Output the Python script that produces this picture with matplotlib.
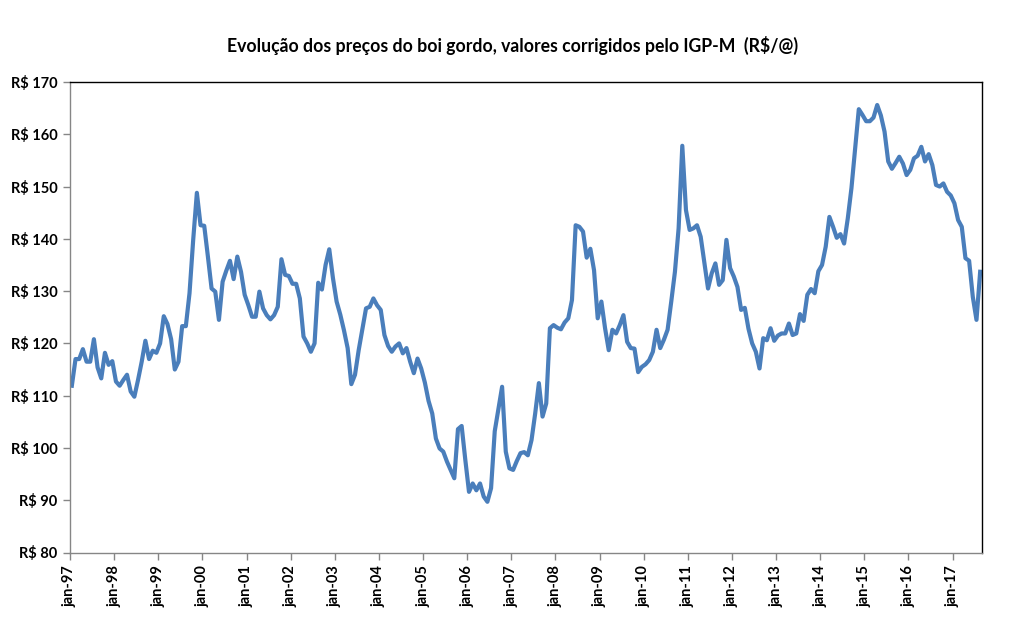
import numpy as np
import matplotlib
matplotlib.use("Agg")
import matplotlib.pyplot as plt

# Preco mensal do boi gordo (R$/@), corrigido pelo IGP-M, jan-97 a ago-17
precos = [
    111.9, 117.0, 117.0, 118.9, 116.5, 116.5, 120.8, 115.4, 113.3, 118.2, 115.9, 116.6,  # 1997
    112.7, 111.9, 113.0, 114.0, 110.8, 109.8, 113.0, 116.5, 120.5, 117.0, 118.6, 118.2,  # 1998
    120.0, 125.2, 123.7, 120.8, 115.0, 116.5, 123.3, 123.3, 129.6, 139.8, 148.8, 142.6,  # 1999
    142.5, 136.6, 130.5, 129.9, 124.5, 131.8, 133.9, 135.8, 132.3, 136.6, 133.7, 129.3,  # 2000
    127.3, 125.1, 125.1, 129.9, 126.7, 125.4, 124.6, 125.4, 127.0, 136.1, 133.1, 132.9,  # 2001
    131.4, 131.4, 128.6, 121.3, 120.0, 118.4, 120.0, 131.6, 130.3, 135.0, 138.0, 132.5,  # 2002
    128.0, 125.5, 122.5, 119.1, 112.2, 114.0, 118.7, 122.7, 126.7, 127.0, 128.6, 127.3,  # 2003
    126.4, 121.6, 119.5, 118.4, 119.4, 120.0, 118.1, 119.1, 116.5, 114.3, 117.1, 115.2,  # 2004
    112.5, 109.0, 106.6, 101.8, 99.9, 99.3, 97.4, 95.8, 94.2, 103.6, 104.2, 97.7,  # 2005
    91.6, 93.2, 91.9, 93.2, 90.7, 89.7, 92.3, 103.2, 107.5, 111.7, 99.3, 96.1,  # 2006
    95.8, 97.5, 99.0, 99.2, 98.6, 101.5, 106.6, 112.4, 106.0, 108.5, 122.9, 123.5,  # 2007
    123.0, 122.7, 124.0, 124.8, 128.3, 142.6, 142.3, 141.4, 136.4, 138.1, 134.0, 124.8,  # 2008
    128.0, 122.9, 118.7, 122.6, 121.9, 123.5, 125.4, 120.3, 119.1, 119.0, 114.5, 115.5,  # 2009
    116.0, 116.8, 118.4, 122.6, 119.1, 120.7, 122.6, 128.0, 133.7, 142.0, 157.8, 145.5,  # 2010
    141.7, 142.0, 142.6, 140.4, 135.5, 130.5, 133.4, 135.3, 131.2, 132.1, 139.8, 134.4,  # 2011
    132.8, 130.8, 126.4, 126.8, 122.8, 120.0, 118.4, 115.2, 121.0, 120.6, 122.9, 120.5,  # 2012
    121.5, 121.9, 121.9, 123.8, 121.6, 121.9, 125.6, 124.3, 129.3, 130.4, 129.6, 133.8,  # 2013
    135.0, 138.5, 144.2, 142.3, 140.2, 140.9, 139.1, 143.9, 149.7, 157.3, 164.8, 163.7,  # 2014
    162.5, 162.5, 163.2, 165.6, 163.6, 160.5, 154.8, 153.4, 154.5, 155.7, 154.4, 152.2,  # 2015
    153.2, 155.4, 155.9, 157.6, 154.8, 156.2, 154.1, 150.3, 150.0, 150.6, 149.0, 148.3,  # 2016
    146.8, 143.6, 142.3, 136.3, 135.8, 128.9, 124.5, 133.7,  # 2017
]
anos = list(range(1997, 2018))
rotulos_x = ["jan-%02d" % (a % 100) for a in anos]
valores_y = list(range(80, 171, 10))

fig = plt.figure(figsize=(10.12, 6.31), dpi=100)
ax = fig.add_axes([70 / 1012, 1 - 552.5 / 631, 912 / 1012, 470.5 / 631])

x = np.arange(len(precos))
ax.plot(x, precos, color="#4A7EBB", linewidth=3.0, solid_joinstyle="round")

ax.set_xlim(-0.5, -0.5 + len(precos))
ax.set_ylim(80, 170)
ax.set_xticks([-0.5 + 12 * i for i in range(len(anos))])
ax.set_xticklabels(rotulos_x, rotation=90, fontsize=10.5, fontweight="bold",
                   family="Lato")
ax.set_yticks(valores_y)
ax.set_yticklabels(["R$ %d" % v for v in valores_y], fontsize=10.5,
                   fontweight="bold", family="Lato")

for s in ["top", "right"]:
    ax.spines[s].set_color("black")
    ax.spines[s].set_linewidth(1.0)
for s in ["left", "bottom"]:
    ax.spines[s].set_color("#868686")
    ax.spines[s].set_linewidth(1.0)
ax.tick_params(axis="both", direction="out", color="#868686", length=5,
               width=1.0, pad=4)

fig.text(513 / 1012, 1 - 45 / 631,
         "Evolução dos preços do boi gordo, valores corrigidos pelo IGP-M  (R$/@)",
         ha="center", va="center", fontsize=12.7, fontweight="bold", family="Lato")

fig.savefig("out.png", dpi=100)
